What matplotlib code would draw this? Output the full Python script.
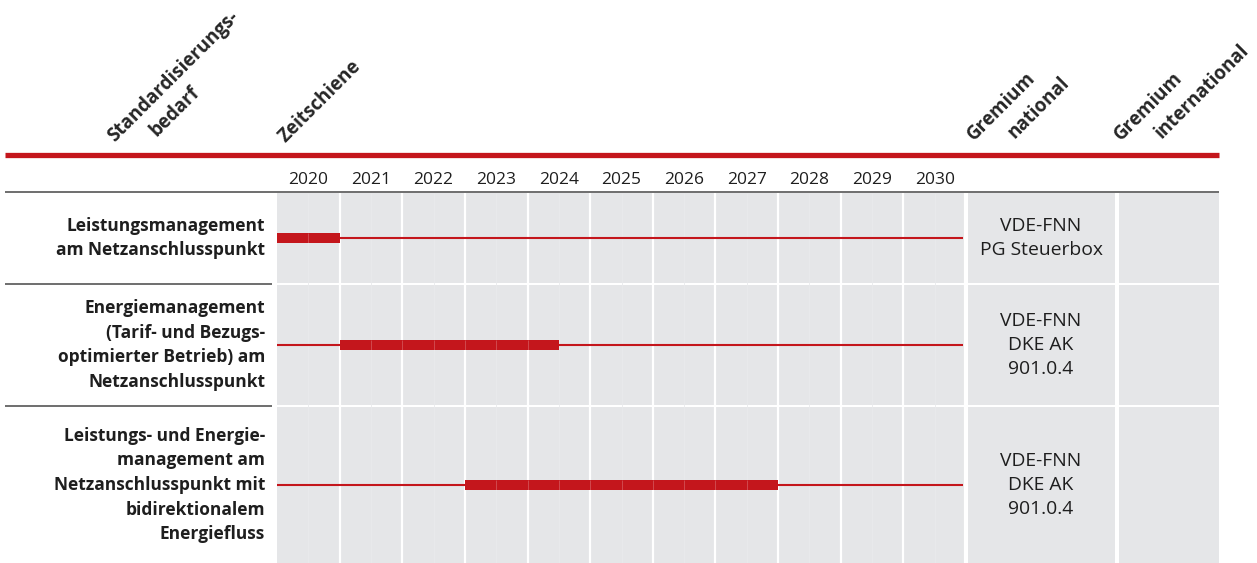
import matplotlib
matplotlib.use("Agg")
import matplotlib.pyplot as plt
from matplotlib.patches import Rectangle

plt.rcParams['font.family'] = ['Open Sans', 'DejaVu Sans']

# ===== data =====
years = list(range(2020, 2031))
topics = [
    "Leistungsmanagement\nam Netzanschlusspunkt",
    "Energiemanagement\n(Tarif- und Bezugs-\noptimierter Betrieb) am\nNetzanschlusspunkt",
    "Leistungs- und Energie-\nmanagement am\nNetzanschlusspunkt mit\nbidirektionalem\nEnergiefluss",
]
bar_start = [2020, 2021, 2023]
bar_end = [2021, 2024.5, 2028]
gremium_national = [
    "VDE-FNN\nPG Steuerbox",
    "VDE-FNN\nDKE AK\n901.0.4",
    "VDE-FNN\nDKE AK\n901.0.4",
]
gremium_international = ["", "", ""]

# ===== layout (pixels) =====
W, H = 1257, 563
RED = '#c4161c'
CELL = '#e5e6e8'
DARK = '#1e1e1e'
row_top = [193, 285, 407]
row_bot = [283, 405, 563]
t_left, t_right = 277, 966

fig = plt.figure(figsize=(W / 100, H / 100), dpi=100)

# background axes in pixel units
bg = fig.add_axes([0, 0, 1, 1])
bg.set_xlim(0, W)
bg.set_ylim(H, 0)
bg.axis('off')

# header lines
bg.hlines(155, 5, 1219, color=RED, lw=3.8)
bg.hlines(192, 5, 1219, color='#6e6e6e', lw=1.4)

# rotated column headers
hdr = dict(rotation=45, rotation_mode='anchor', ha='left', va='baseline',
           fontsize=13.5, fontweight='bold', color='#262626')
bg.text(115, 142, "Standardisierungs-", **hdr)
bg.text(157, 137, "bedarf", **hdr)
bg.text(285, 143, "Zeitschiene", **hdr)
bg.text(974, 141, "Gremium", **hdr)
bg.text(1015, 139, "national", **hdr)
bg.text(1121, 141, "Gremium", **hdr)
bg.text(1162, 139, "international", **hdr)

# left label column + gremium columns
for i in range(len(topics)):
    yc = (row_top[i] + row_bot[i]) / 2
    if i > 0:
        bg.hlines(row_top[i] - 1.5, 5, 272, color='#6e6e6e', lw=1.4)
    bg.text(265, yc, topics[i], ha='right', va='center', fontsize=12.5,
            fontweight='bold', color=DARK, linespacing=1.47, multialignment='right')
    bg.add_patch(Rectangle((968, row_top[i]), 1115 - 968, row_bot[i] - row_top[i],
                           facecolor=CELL, edgecolor='none'))
    bg.add_patch(Rectangle((1119, row_top[i]), 1219 - 1119, row_bot[i] - row_top[i],
                           facecolor=CELL, edgecolor='none'))
    bg.text(1041, yc, gremium_national[i], ha='center', va='center', fontsize=13.9,
            color=DARK, linespacing=1.45)
    bg.text(1169, yc, gremium_international[i], ha='center', va='center', fontsize=13.9,
            color=DARK)

# timeline axes, x in years
ax = fig.add_axes([t_left / W, 0, (t_right - t_left) / W, 1])
ax.set_xlim(years[0], years[-1] + 1)
ax.set_ylim(H, 0)
ax.axis('off')

for i in range(len(topics)):
    ax.add_patch(Rectangle((years[0], row_top[i]), len(years), row_bot[i] - row_top[i],
                           facecolor=CELL, edgecolor='none', zorder=1))
for y in years:
    ax.text(y + 0.5, 180, str(y), ha='center', va='center', fontsize=12.5, color=DARK)
    if y > years[0]:
        ax.vlines(y, row_top[0], H, color='white', lw=1.6, zorder=2)
    ax.vlines(y + 0.5, row_top[0], H, color='#e9eaec', lw=0.6, zorder=2)
ax.vlines(years[-1] + 1, row_top[0], H, color='white', lw=3, zorder=2)

for i in range(len(topics)):
    yc = (row_top[i] + row_bot[i]) / 2
    ax.hlines(yc, years[0], years[-1] + 1 - 0.05, color=RED, lw=1.5, zorder=3)
    ax.barh(yc, bar_end[i] - bar_start[i], left=bar_start[i], height=10,
            color=RED, zorder=4)
    for y in years:
        if bar_start[i] < y + 0.5 < bar_end[i]:
            ax.vlines(y + 0.5, yc - 5, yc + 5, color='white', lw=0.6, alpha=0.25, zorder=5)
        if bar_start[i] < y < bar_end[i]:
            ax.vlines(y, yc - 5, yc + 5, color='white', lw=0.6, alpha=0.25, zorder=5)

fig.savefig('out.png', dpi=100)
